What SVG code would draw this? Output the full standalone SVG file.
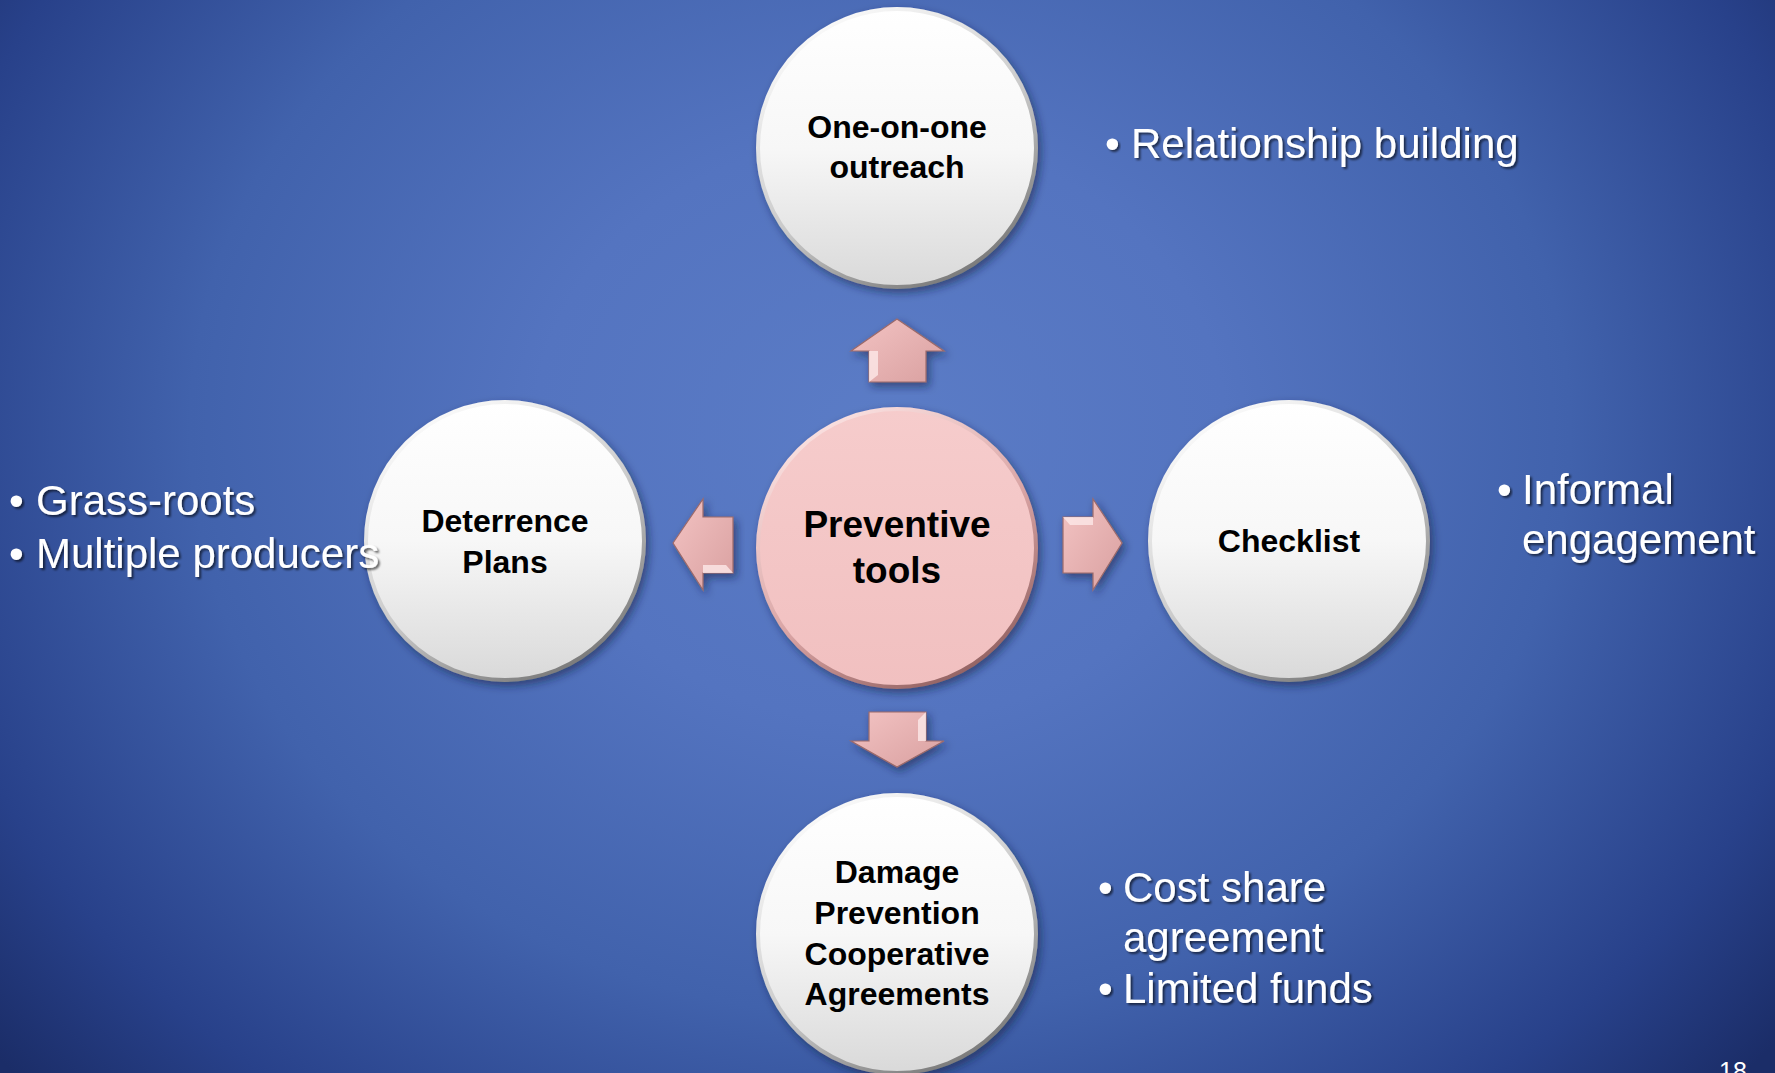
<svg xmlns="http://www.w3.org/2000/svg" width="1775" height="1073" viewBox="0 0 1775 1073">
  <defs>
    <radialGradient id="bg" gradientUnits="userSpaceOnUse" cx="880" cy="430" r="1150" gradientTransform="translate(880 430) scale(1 0.85) translate(-880 -430)">
      <stop offset="0" stop-color="#5b7cc6"/>
      <stop offset="0.3" stop-color="#5474c0"/>
      <stop offset="0.6" stop-color="#4162ac"/>
      <stop offset="0.85" stop-color="#28418a"/>
      <stop offset="1" stop-color="#1b2d68"/>
    </radialGradient>
    <linearGradient id="whiteFill" x1="0" y1="0" x2="0" y2="1">
      <stop offset="0" stop-color="#ffffff"/>
      <stop offset="0.5" stop-color="#f7f7f7"/>
      <stop offset="1" stop-color="#d9d9d9"/>
    </linearGradient>
    <linearGradient id="whiteRim" x1="0.2" y1="0" x2="0.8" y2="1">
      <stop offset="0" stop-color="#ffffff"/>
      <stop offset="0.55" stop-color="#c8c8c8"/>
      <stop offset="1" stop-color="#6f6f6f"/>
    </linearGradient>
    <linearGradient id="pinkFill" x1="0" y1="0" x2="0" y2="1">
      <stop offset="0" stop-color="#f6cccc"/>
      <stop offset="1" stop-color="#f1c0c0"/>
    </linearGradient>
    <linearGradient id="pinkRim" x1="0.2" y1="0" x2="0.8" y2="1">
      <stop offset="0" stop-color="#fde6e6"/>
      <stop offset="0.55" stop-color="#d9a4a4"/>
      <stop offset="1" stop-color="#8a5a5a"/>
    </linearGradient>
    <linearGradient id="arrowFill" x1="0" y1="0" x2="1" y2="1">
      <stop offset="0" stop-color="#f3c3c3"/>
      <stop offset="1" stop-color="#d9a0a0"/>
    </linearGradient>
    <filter id="shadow" x="-20%" y="-20%" width="140%" height="140%">
      <feDropShadow dx="3" dy="4" stdDeviation="4" flood-color="#0a1a40" flood-opacity="0.55"/>
    </filter>
    <filter id="tshadow" x="-5%" y="-20%" width="110%" height="150%">
      <feDropShadow dx="2" dy="2" stdDeviation="1.2" flood-color="#000000" flood-opacity="0.6"/>
    </filter>
    <style>
      .node-label { font-family: "Liberation Sans", Arial, sans-serif; font-weight: bold; font-size: 32px; fill: #000; text-anchor: middle; }
      .center-label { font-family: "Liberation Sans", Arial, sans-serif; font-weight: bold; font-size: 37px; fill: #000; text-anchor: middle; }
      .bullet { font-family: "Liberation Sans", Arial, sans-serif; font-size: 42px; fill: #fff; filter: url(#tshadow); }
      .wc { fill: url(#whiteFill); stroke: url(#whiteRim); stroke-width: 4; filter: url(#shadow); }
      .pc { fill: url(#pinkFill); stroke: url(#pinkRim); stroke-width: 4; filter: url(#shadow); }
      .arrow { fill: url(#arrowFill); stroke: #9c6a6a; stroke-width: 1.2; filter: url(#shadow); }
      .hl { fill: #fde9e9; opacity: 0.8; }
    </style>
  </defs>

  <rect x="0" y="0" width="1775" height="1073" fill="url(#bg)"/>

  <g id="connectors">
    <!-- up arrow -->
    <g id="arrow-up">
      <polygon class="arrow" points="897,319 944,351 926,351 926,382 869,382 869,351 851,351"/>
      <polygon class="hl" points="869,351 878,351 878,375 869,382"/>
    </g>
    <!-- down arrow -->
    <g id="arrow-down">
      <polygon class="arrow" points="869,712 926,712 926,741 944,741 897,767 851,741 869,741"/>
      <polygon class="hl" points="926,712 918,720 918,741 926,741"/>
    </g>
    <!-- left arrow -->
    <g id="arrow-left">
      <polygon class="arrow" points="673,543 703,499 703,517 733,517 733,573 703,573 703,590"/>
      <polygon class="hl" points="703,573 733,573 726,565 703,565"/>
    </g>
    <!-- right arrow -->
    <g id="arrow-right">
      <polygon class="arrow" points="1063,517 1093,517 1093,499 1122,543 1093,590 1093,573 1063,573"/>
      <polygon class="hl" points="1063,517 1093,517 1093,525 1070,525"/>
    </g>
  </g>

  <g id="node-center">
    <circle class="pc" cx="897" cy="548" r="139"/>
    <text class="center-label" x="897" y="537">Preventive</text>
    <text class="center-label" x="897" y="583">tools</text>
  </g>

  <g id="node-top">
    <circle class="wc" cx="897" cy="148" r="139"/>
    <text class="node-label" x="897" y="138">One-on-one</text>
    <text class="node-label" x="897" y="178">outreach</text>
  </g>

  <g id="node-left">
    <circle class="wc" cx="505" cy="541" r="139"/>
    <text class="node-label" x="505" y="532">Deterrence</text>
    <text class="node-label" x="505" y="573">Plans</text>
  </g>

  <g id="node-right">
    <circle class="wc" cx="1289" cy="541" r="139"/>
    <text class="node-label" x="1289" y="552">Checklist</text>
  </g>

  <g id="node-bottom">
    <circle class="wc" cx="897" cy="934" r="139"/>
    <text class="node-label" x="897" y="883">Damage</text>
    <text class="node-label" x="897" y="924">Prevention</text>
    <text class="node-label" x="897" y="965">Cooperative</text>
    <text class="node-label" x="897" y="1005">Agreements</text>
  </g>

  <g id="notes">
    <g id="note-top">
      <text class="bullet" x="1105" y="158">•</text>
      <text class="bullet" x="1131" y="158">Relationship building</text>
    </g>
    <g id="note-left">
      <text class="bullet" x="9" y="515">•</text>
      <text class="bullet" x="36" y="515">Grass-roots</text>
      <text class="bullet" x="9" y="568">•</text>
      <text class="bullet" x="36" y="568">Multiple producers</text>
    </g>
    <g id="note-right">
      <text class="bullet" x="1497" y="504">•</text>
      <text class="bullet" x="1522" y="504">Informal</text>
      <text class="bullet" x="1522" y="554">engagement</text>
    </g>
    <g id="note-bottom">
      <text class="bullet" x="1098" y="902">•</text>
      <text class="bullet" x="1123" y="902">Cost share</text>
      <text class="bullet" x="1123" y="952">agreement</text>
      <text class="bullet" x="1098" y="1003">•</text>
      <text class="bullet" x="1123" y="1003">Limited funds</text>
    </g>
  </g>

  <text x="1719" y="1080" font-family="Liberation Sans, Arial, sans-serif" font-size="25" fill="#ffffff">18</text>
</svg>
